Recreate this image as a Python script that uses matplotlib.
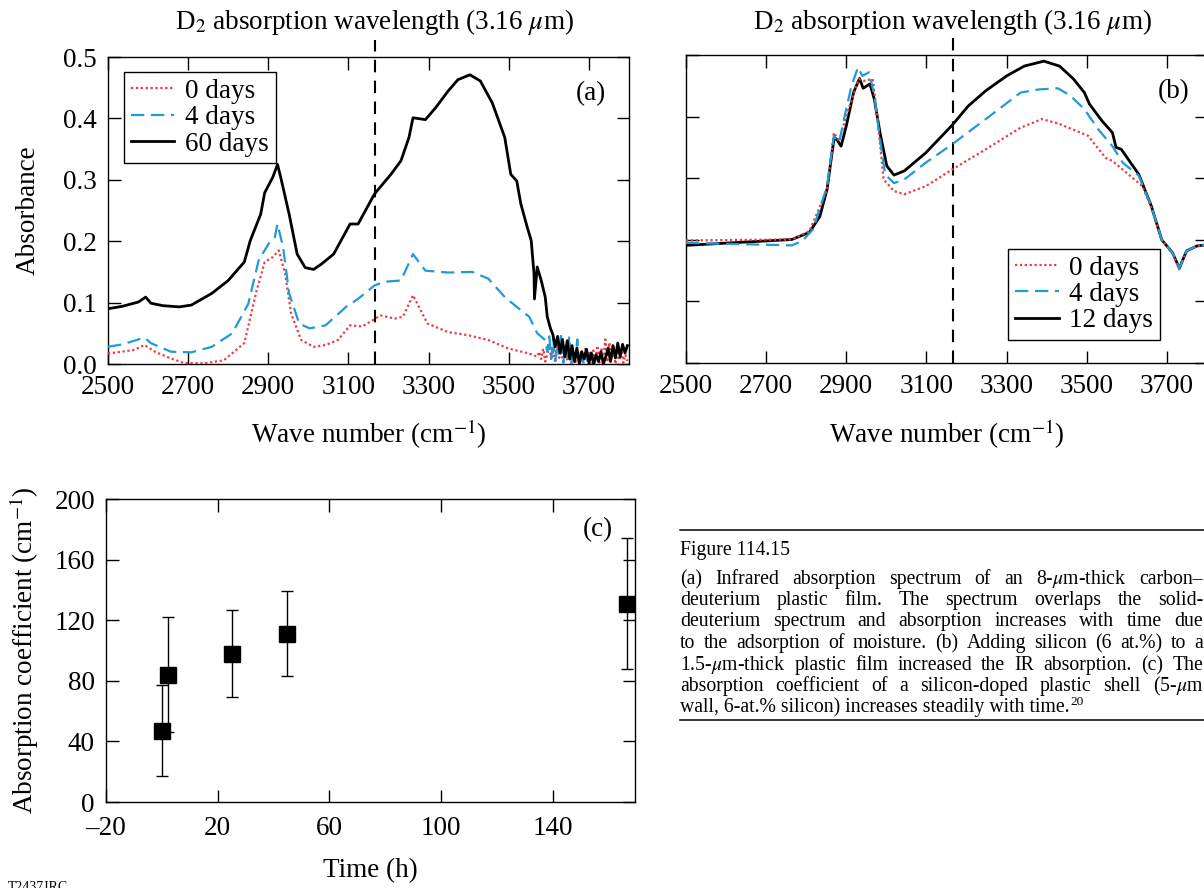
import numpy as np
import matplotlib
matplotlib.use("Agg")
import matplotlib.pyplot as plt
import matplotlib.transforms as mtransforms
from matplotlib.lines import Line2D

plt.rcParams['font.family'] = ['Liberation Serif', 'DejaVu Serif']
plt.rcParams['mathtext.fontset'] = 'stix'
plt.rcParams['axes.linewidth'] = 1.0

# ---------------- data: panel (a) ----------------
a60_wn = [2500, 2536, 2576, 2594, 2607, 2637, 2678, 2708, 2759, 2800, 2840, 2855, 2881, 2891,
          2911, 2923, 2931, 2952, 2972, 2992, 3013, 3033, 3063, 3104, 3124, 3165, 3206, 3231,
          3251, 3261, 3292, 3317, 3348, 3373, 3403, 3429, 3459, 3490, 3505, 3520, 3530, 3546,
          3556, 3563, 3564, 3571, 3581, 3591, 3596, 3604]
a60_abs = [0.090, 0.094, 0.101, 0.109, 0.099, 0.095, 0.093, 0.096, 0.115, 0.136, 0.166, 0.201,
           0.244, 0.279, 0.304, 0.325, 0.304, 0.244, 0.179, 0.157, 0.154, 0.163, 0.179, 0.228,
           0.228, 0.277, 0.309, 0.331, 0.369, 0.401, 0.398, 0.417, 0.444, 0.463, 0.471, 0.461,
           0.425, 0.369, 0.309, 0.298, 0.261, 0.223, 0.201, 0.147, 0.106, 0.158, 0.136, 0.109,
           0.077, 0.058]
a60_noise_wn = [3610, 3616, 3622, 3628, 3634, 3640, 3646, 3652, 3658, 3664, 3670, 3676, 3682,
                3688, 3694, 3700, 3706, 3712, 3718, 3724, 3730, 3736, 3742, 3748, 3754, 3760,
                3766, 3772, 3778, 3784, 3790, 3796]
a60_noise_abs = [0.048, 0.028, 0.045, 0.018, 0.040, 0.012, 0.038, 0.008, 0.030, 0.004, 0.026,
                 0.000, 0.020, 0.008, 0.024, 0.002, 0.018, 0.000, 0.015, 0.004, 0.020, 0.000,
                 0.012, 0.026, 0.004, 0.030, 0.010, 0.034, 0.012, 0.032, 0.018, 0.030]

a4_wn = [2500, 2536, 2591, 2607, 2657, 2708, 2759, 2810, 2850, 2876, 2901, 2916, 2923, 2937,
         2952, 2977, 3003, 3043, 3094, 3124, 3165, 3190, 3231, 3261, 3292, 3348, 3409, 3449,
         3490, 3520, 3551, 3571, 3591]
a4_abs = [0.028, 0.032, 0.043, 0.034, 0.020, 0.019, 0.028, 0.050, 0.098, 0.169, 0.196, 0.206,
          0.228, 0.190, 0.115, 0.066, 0.058, 0.063, 0.093, 0.106, 0.128, 0.134, 0.136, 0.179,
          0.152, 0.149, 0.150, 0.139, 0.109, 0.093, 0.077, 0.050, 0.039]
a4_noise_wn = [3596, 3601, 3606, 3611, 3616, 3621, 3626, 3631, 3636, 3641, 3646, 3651, 3656,
               3661, 3666, 3671, 3676, 3681, 3686, 3691, 3696, 3701]
a4_noise_abs = [0.020, 0.045, 0.010, 0.040, 0.005, 0.035, 0.015, 0.048, 0.002, 0.030, 0.010,
                0.045, 0.000, 0.025, 0.008, 0.040, 0.002, 0.020, 0.000, 0.015, 0.005, 0.010]

a0_wn = [2500, 2566, 2591, 2617, 2657, 2688, 2739, 2789, 2840, 2871, 2891, 2911, 2926, 2942,
         2957, 2982, 3013, 3043, 3074, 3104, 3134, 3180, 3216, 3236, 3261, 3297, 3348, 3398,
         3449, 3500, 3551, 3571]
a0_abs = [0.017, 0.023, 0.031, 0.020, 0.009, 0.002, 0.001, 0.006, 0.034, 0.120, 0.166, 0.174,
          0.185, 0.147, 0.082, 0.039, 0.028, 0.031, 0.039, 0.063, 0.061, 0.079, 0.074, 0.077,
          0.112, 0.066, 0.052, 0.047, 0.039, 0.025, 0.017, 0.012]
a0_noise_wn = [3576, 3581, 3586, 3591, 3596, 3601, 3606, 3611, 3616, 3621, 3626, 3631, 3636,
               3641, 3646, 3651, 3656, 3661, 3666, 3671, 3676, 3681, 3686, 3691, 3696, 3701,
               3706, 3711, 3716, 3721, 3726, 3731, 3736, 3741, 3746, 3751, 3756, 3761, 3766,
               3771, 3776, 3781, 3786, 3791, 3796]
a0_noise_abs = [0.020, 0.008, 0.025, 0.004, 0.015, 0.030, 0.006, 0.020, 0.002, 0.028, 0.010,
                0.022, 0.000, 0.018, 0.006, 0.030, 0.002, 0.015, 0.000, 0.020, 0.004, 0.012,
                0.000, 0.025, 0.006, 0.018, 0.000, 0.022, 0.004, 0.030, 0.002, 0.024, 0.008,
                0.040, 0.003, 0.035, 0.010, 0.028, 0.000, 0.018, 0.006, 0.022, 0.002, 0.015,
                0.005]

# ---------------- data: panel (b) ----------------
b12_wn = [2500, 2764, 2808, 2834, 2852, 2869, 2875, 2887, 2900, 2918, 2933, 2942, 2959, 2970,
          2984, 3001, 3019, 3045, 3098, 3164, 3204, 3248, 3300, 3344, 3393, 3432, 3467, 3494,
          3507, 3538, 3564, 3573, 3586, 3630, 3661, 3687, 3714, 3731, 3749, 3775, 3800]
b12_abs = [0.191, 0.2005, 0.212, 0.238, 0.282, 0.363, 0.364, 0.352, 0.385, 0.439, 0.462, 0.446,
           0.453, 0.428, 0.374, 0.320, 0.305, 0.312, 0.341, 0.386, 0.417, 0.442, 0.466, 0.482,
           0.490, 0.482, 0.461, 0.439, 0.420, 0.393, 0.374, 0.350, 0.347, 0.306, 0.255, 0.200,
           0.179, 0.154, 0.182, 0.190, 0.192]
b4_wn = [2500, 2764, 2790, 2817, 2852, 2869, 2882, 2896, 2913, 2929, 2940, 2957, 2970, 2984,
         2997, 3019, 3045, 3098, 3164, 3248, 3335, 3379, 3428, 3459, 3494, 3529, 3564, 3590,
         3630, 3661, 3687, 3714, 3731, 3749, 3775, 3800]
b4_abs = [0.195, 0.191, 0.198, 0.217, 0.287, 0.369, 0.358, 0.401, 0.450, 0.480, 0.466, 0.472,
          0.434, 0.363, 0.306, 0.292, 0.298, 0.325, 0.355, 0.396, 0.439, 0.444, 0.446, 0.434,
          0.412, 0.379, 0.352, 0.325, 0.304, 0.255, 0.200, 0.179, 0.154, 0.182, 0.190, 0.192]
b0_wn = [2500, 2764, 2808, 2852, 2869, 2882, 2900, 2931, 2944, 2966, 2979, 2993, 3019, 3045,
         3098, 3164, 3248, 3335, 3388, 3432, 3503, 3547, 3564, 3639, 3661, 3687, 3714, 3731,
         3749, 3775, 3800]
b0_abs = [0.199, 0.2005, 0.214, 0.282, 0.374, 0.360, 0.401, 0.461, 0.458, 0.461, 0.390, 0.298,
          0.279, 0.274, 0.287, 0.314, 0.347, 0.382, 0.396, 0.388, 0.369, 0.333, 0.328, 0.287,
          0.252, 0.200, 0.179, 0.152, 0.182, 0.190, 0.192]

# ---------------- data: panel (c) ----------------
c_time = [0.1, 2.2, 25.2, 45.0, 166.8]
c_coef = [47, 84, 98, 111, 131]
c_err = [30, 38, 29, 28, 43]

wn_ticks = [2500, 2700, 2900, 3100, 3300, 3500, 3700]
abs_ticks = [0.0, 0.1, 0.2, 0.3, 0.4, 0.5]
abs_ticklabels = ['0.0', '0.1', '0.2', '0.3', '0.4', '0.5']
time_ticks = [-20, 20, 60, 100, 140]
time_ticklabels = ['\u201320', '20', '60', '100', '140']
coef_ticks = [0, 40, 80, 120, 160, 200]
d2_line = 3165

RED = '#ec3a3f'
BLUE = '#1f9bd7'
FS = 19.5

W, H = 1204, 888
fig = plt.figure(figsize=(W / 100, H / 100), dpi=100)


def rect(l, t, r, b):
    return [l / W, 1 - b / H, (r - l) / W, (b - t) / H]


def style(ax):
    ax.tick_params(direction='in', length=9, width=1.0, top=True, right=True,
                   labelsize=FS, pad=8)
    for s in ax.spines.values():
        s.set_linewidth(1.0)


def d2_marks(ax):
    ax.axvline(d2_line, ymin=0, ymax=1.055, color='black', lw=1.5,
               dashes=(6, 4), clip_on=False, zorder=1)
    tr = mtransforms.blended_transform_factory(ax.transData, fig.transFigure)
    ax.text(d2_line, 1 - 22 / H, 'D$_2$ absorption wavelength (3.16 $\\mu$m)',
            transform=tr, ha='center', va='center', fontsize=FS)


# ---- panel (a)
axa = fig.add_axes(rect(108, 57, 629, 364))
style(axa)
axa.plot(a0_wn + a0_noise_wn, a0_abs + a0_noise_abs, color=RED, lw=1.6,
         linestyle=(0, (1, 1.2)), label='0 days', zorder=3)
axa.plot(a4_wn + a4_noise_wn, a4_abs + a4_noise_abs, color=BLUE, lw=1.6,
         linestyle=(0, (6, 3)), label='4 days', zorder=3)
axa.plot(a60_wn + a60_noise_wn, a60_abs + a60_noise_abs, color='black', lw=2.0,
         label='60 days', zorder=4)
axa.set_xlim(2500, 3800)
axa.set_ylim(0, 0.5)
axa.set_xticks(wn_ticks)
axa.set_yticks(abs_ticks)
axa.set_yticklabels(abs_ticklabels)
d2_marks(axa)
axa.set_xlabel('Wave number (cm$^{-1}$)', fontsize=FS)
axa.xaxis.set_label_coords(0.5, -(418 - 364) / 307, transform=axa.transAxes)
axa.set_ylabel('Absorbance', fontsize=FS)
axa.yaxis.set_label_coords(-(108 - 41) / 521, 0.5)
axa.text(0.955, 0.88, '(a)', transform=axa.transAxes, ha='right', va='center', fontsize=FS)
leg = axa.legend(loc='upper left', bbox_to_anchor=(0.031, 0.951), fontsize=FS,
                 frameon=True, fancybox=False, edgecolor='black', framealpha=1,
                 handlelength=1.6, handletextpad=0.4, labelspacing=0.05,
                 borderpad=0.25, borderaxespad=0)
leg.get_frame().set_linewidth(1.0)

# ---- panel (b)
axb = fig.add_axes(rect(686, 55, 1207, 363))
style(axb)
axb.plot(b0_wn, b0_abs, color=RED, lw=1.6, linestyle=(0, (1, 1.2)), label='0 days', zorder=3)
axb.plot(b4_wn, b4_abs, color=BLUE, lw=1.6, linestyle=(0, (6, 3)), label='4 days', zorder=3)
axb.plot(b12_wn, b12_abs, color='black', lw=2.0, label='12 days', zorder=2)
axb.set_xlim(2500, 3800)
axb.set_ylim(0, 0.5)
axb.set_xticks(wn_ticks)
axb.set_yticks(abs_ticks)
axb.tick_params(labelleft=False)
d2_marks(axb)
axb.set_xlabel('Wave number (cm$^{-1}$)', fontsize=FS)
axb.xaxis.set_label_coords(0.5, -(418 - 363) / 308, transform=axb.transAxes)
axb.text((1190 - 686) / 521, 0.88, '(b)', transform=axb.transAxes, ha='right', va='center',
         fontsize=FS)
legb = axb.legend(loc='lower right', bbox_to_anchor=((1160 - 686) / 521, (363 - 340) / 308),
                  fontsize=FS, frameon=True, fancybox=False, edgecolor='black', framealpha=1,
                  handlelength=1.6, handletextpad=0.4, labelspacing=0.05,
                  borderpad=0.25, borderaxespad=0)
legb.get_frame().set_linewidth(1.0)

# ---- panel (c)
axc = fig.add_axes(rect(106, 499, 635, 802))
style(axc)
axc.tick_params(axis='x', pad=10)
axc.errorbar(c_time, c_coef, yerr=c_err, fmt='s', color='black', ms=11, mec='black',
             ecolor='black', elinewidth=1.0, capsize=4, capthick=1.0, zorder=3)
axc.set_xlim(-20, 169.5)
axc.set_ylim(0, 200)
axc.set_xticks(time_ticks)
axc.set_xticklabels(time_ticklabels)
axc.set_yticks(coef_ticks)
axc.set_xlabel('Time (h)', fontsize=FS)
axc.xaxis.set_label_coords(0.5, -(858 - 802) / 303, transform=axc.transAxes)
axc.set_ylabel('Absorption coefficient (cm$^{-1}$)', fontsize=FS)
axc.yaxis.set_label_coords(-(106 - 41) / 529, 0.5)
axc.text(0.93, 0.9, '(c)', transform=axc.transAxes, ha='center', va='center', fontsize=FS)

# ---- caption
fig.add_artist(Line2D([680 / W, 1.0], [1 - 530 / H, 1 - 530 / H], color='black', lw=1.1))
fig.add_artist(Line2D([680 / W, 1.0], [1 - 720 / H, 1 - 720 / H], color='black', lw=1.1))

CFS = 14.2
cap_left, cap_right = 680, 1203
cap_lines = [
    ('Figure 114.15', 555, False),
    ('(a) Infrared absorption spectrum of an 8-$\\mu$m-thick carbon\u2013', 584, True),
    ('deuterium plastic film. The spectrum overlaps the solid-', 605, True),
    ('deuterium spectrum and absorption increases with time due', 626, True),
    ('to the adsorption of moisture. (b) Adding silicon (6 at.%) to a', 648, True),
    ('1.5-$\\mu$m-thick plastic film increased the IR absorption. (c) The', 670, True),
    ('absorption coefficient of a silicon-doped plastic shell (5-$\\mu$m', 691, True),
    ('wall, 6-at.% silicon) increases steadily with time.', 712, False),
]
renderer = fig.canvas.get_renderer()
last_art = None
for text, base, justify in cap_lines:
    y = 1 - base / H
    if not justify:
        last_art = fig.text(cap_left / W, y, text, fontsize=CFS, ha='left', va='baseline')
        continue
    words = text.split(' ')
    arts = [fig.text(0, y, w, fontsize=CFS, ha='left', va='baseline') for w in words]
    widths = [a.get_window_extent(renderer).width for a in arts]
    gap = ((cap_right - cap_left) - sum(widths)) / (len(words) - 1)
    x = cap_left
    for a, wdt in zip(arts, widths):
        a.set_x(x / W)
        x += wdt + gap

# footnote reference "20" as superscript after the last caption line
end_x = cap_left + last_art.get_window_extent(renderer).width + 1
fig.text(end_x / W, 1 - (712 - 7) / H, '20', fontsize=CFS * 0.68, ha='left', va='baseline')

fig.text(8 / W, 1 - 881 / H, 'T2437JRC', fontsize=10, ha='left', va='top')

fig.savefig('out.png', dpi=100)
